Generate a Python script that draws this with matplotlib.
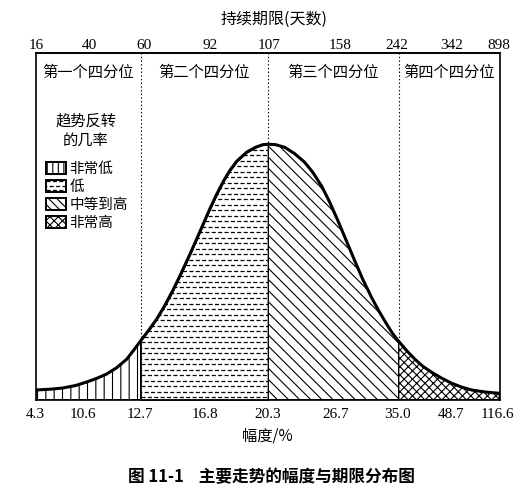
import numpy as np
import matplotlib.pyplot as plt
from matplotlib.patches import Rectangle

plt.rcParams['font.family'] = ['Noto Sans CJK SC', 'DejaVu Sans']
plt.rcParams['hatch.linewidth'] = 0.8
plt.rcParams['lines.scale_dashes'] = False

# bell curve: position along the axis and curve height
pos = [0, 15, 27, 40, 51, 61, 71, 81, 91, 98, 105, 113, 121, 129, 137, 145,
       154, 160, 167, 174, 181, 188, 194, 201, 211, 220, 227, 232.6,
       240, 249, 259, 269, 277, 286, 294, 302, 310, 319, 327, 336, 343, 351,
       357, 363, 371, 379, 387, 396, 406, 416, 426, 436, 450, 463.6]
height = [9.7, 10.5, 11.7, 14.2, 17.7, 21.3, 25.7, 32, 40.5, 49.5, 59, 69.5,
          80.7, 94, 109, 125.5, 145, 158.5, 174.5, 190.5, 205.5, 219, 229,
          238.5, 247.5, 252.5, 255, 255.5,
          255, 252.4, 246, 237.4, 227.5, 213.5, 197.5, 179.5, 160.5, 139,
          120.5, 102, 89, 75.5, 66, 58.4, 49, 40.7, 33.5, 27.4, 21.5, 16.4,
          12.6, 9.7, 7.6, 6.4]

quartile_edges = [0, 105, 232.6, 363, 463.6]
quartile_names = ['第一个四分位', '第二个四分位', '第三个四分位', '第四个四分位']
prob_names = ['非常低', '低', '中等到高', '非常高']

# amplitude (bottom) and duration (top) scales
amp_pos = [0, 47, 104, 169, 232, 300, 362, 415, 462]
amp_labels = ['4.3', '10.6', '12.7', '16.8', '20.3', '26.7', '35.0', '48.7', '116.6']
dur_pos = [1, 54, 108, 174, 233, 304, 361, 416, 463.5]
dur_labels = ['16', '40', '60', '92', '107', '158', '242', '342', '898']

hatches = ['||', None, '\\\\\\', 'xxxx']
legend_hatches = ['|||', None, '\\\\\\\\', 'xxxx']


def dash_fill(ax, clip, transform, x0, x1, y0, y1, step=5.5):
    # staggered short dashes, the "低" texture
    for i, y in enumerate(np.arange(y0, y1, step)):
        ln, = ax.plot([x0, x1], [y, y], color='k', lw=0.9,
                      linestyle=(2.3 * (i % 2), (2.9, 1.7)), zorder=2.5)
        if transform is None:
            ln.set_clip_path(clip)
        else:
            ln.set_clip_path(clip, transform)


fig = plt.figure(figsize=(5.31, 4.89), dpi=100)
ax = fig.add_axes([35.7 / 531, 88.3 / 489, 464 / 531, 346.7 / 489])
ax.set_xlim(0, 464)
ax.set_ylim(0, 346.7)

x = np.array(pos)
h = np.array(height)

for edge in quartile_edges[1:-1]:
    ax.axvline(edge, color='k', lw=0.8, ls=':', zorder=1)

for i in range(4):
    lo, hi = quartile_edges[i], quartile_edges[i + 1]
    m = (x >= lo) & (x <= hi)
    poly = ax.fill_between(x[m], 0, h[m], facecolor='white', edgecolor='k',
                           lw=1.0, hatch=hatches[i], zorder=2)
    if hatches[i] is None:
        dash_fill(ax, poly.get_paths()[0], ax.transData, lo, hi, 2.5, h[m].max())

ax.plot(x, h, color='k', lw=2.2, zorder=3, solid_joinstyle='round')

for i, name in enumerate(quartile_names):
    cx = (quartile_edges[i] + quartile_edges[i + 1]) / 2
    ax.text(cx, 328.7, name, ha='center', va='center', fontsize=11)

# hand-made legend
ax.text(50.3, 270.5, '趋势反转\n的几率', ha='center', va='center',
        fontsize=11, linespacing=1.15)
for i, name in enumerate(prob_names):
    yc = 232 - 18 * i
    rect = Rectangle((10.5, yc - 6), 20, 12, facecolor='white', edgecolor='k',
                     lw=1.4, hatch=legend_hatches[i], zorder=2)
    ax.add_patch(rect)
    if legend_hatches[i] is None:
        dash_fill(ax, rect, None, 10.5, 30.5, yc - 4.5, yc + 6, step=4.5)
    ax.text(34, yc, name, ha='left', va='center', fontsize=10.5)

for s in ax.spines.values():
    s.set_linewidth(1.2)

ax.set_yticks([])
ax.set_xticks(amp_pos, amp_labels, family='Liberation Serif', fontsize=11)
ax.tick_params(axis='x', length=0, pad=5)
ax.set_xlabel('幅度/%', fontsize=11, labelpad=5)

top = ax.secondary_xaxis('top')
top.set_xticks(dur_pos, dur_labels, family='Liberation Serif', fontsize=11)
top.tick_params(axis='x', length=0, pad=1.5)
top.spines['top'].set_linewidth(1.2)

fig.text(274 / 531, 1 - 19 / 489, '持续期限(天数)', ha='center', va='center',
         fontsize=11.5)
fig.text(271 / 531, 1 - 477 / 489, '图 11-1    主要走势的幅度与期限分布图',
         ha='center', va='center', fontsize=12, fontweight='bold')

fig.savefig('out.png', dpi=100)
